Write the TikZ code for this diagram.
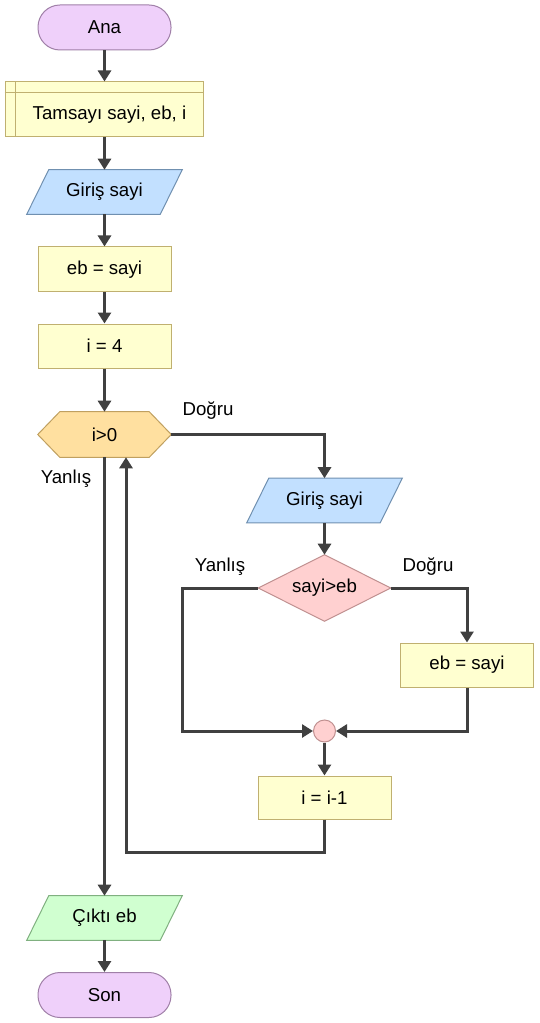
\documentclass[tikz,border=0pt]{standalone}
\usepackage{fontspec}
\setmainfont{Liberation Sans}
\usetikzlibrary{arrows.meta,calc,backgrounds}
\definecolor{linegray}{HTML}{404040}
\definecolor{termfill}{HTML}{EFD0FA}
\definecolor{termborder}{HTML}{A080A8}
\definecolor{procfill}{HTML}{FFFFD0}
\definecolor{procborder}{HTML}{C0B070}
\definecolor{infill}{HTML}{C2E0FF}
\definecolor{inborder}{HTML}{7090B0}
\definecolor{outfill}{HTML}{D0FFD0}
\definecolor{outborder}{HTML}{80B080}
\definecolor{iffill}{HTML}{FFD0D0}
\definecolor{ifborder}{HTML}{C09090}
\definecolor{loopfill}{HTML}{FFE0A0}
\definecolor{loopborder}{HTML}{C0A060}
\begin{document}
\begin{tikzpicture}[x=0.75pt,y=-0.75pt,
  every node/.style={font=\fontsize{14}{16}\selectfont, inner sep=0pt, text=black},
  line/.style={draw=linegray, line width=2.25pt},
  arr/.style={line, -{Triangle[width=9.75pt,length=8.25pt]}},
  term/.style={draw=termborder, fill=termfill, rounded corners=16.5pt, minimum width=99.75pt, minimum height=33.75pt, line width=0.75pt},
  procbox/.style={draw=procborder, fill=procfill, minimum width=99.75pt, minimum height=33pt, line width=0.75pt},
  shapebox/.style={minimum width=116.25pt, minimum height=33pt},
  hexbox/.style={minimum width=99.75pt, minimum height=33.75pt},
  ifbox/.style={minimum width=99pt, minimum height=49.5pt},
  joinc/.style={circle, draw=ifborder, fill=iffill, minimum size=16.5pt, line width=0.75pt},
  outline/.style={line width=0.75pt}
]
\useasboundingbox (0,0) rectangle (539,1023);

% nodes
\node[term] (start) at (104.5,27.5) {Ana};
\node[procbox, minimum width=148.5pt, minimum height=41.25pt] (decl) at (104,109.5) {};
\node (declt) at (109.5,115) {Tamsayı sayi, eb, i};
\node[shapebox] (in1) at (104.5,192) {Giriş sayi};
\node[procbox, minimum height=33.75pt] (eb1) at (104.5,269.5) {eb = sayi};
\node[procbox] (i4) at (104.5,346) {i = 4};
\node[hexbox] (loop) at (104.5,434.5) {i>0};
\node[shapebox] (in2) at (324.5,500.5) {Giriş sayi};
\node[ifbox] (if) at (324.5,588) {sayi>eb};
\node[procbox] (eb2) at (467,665) {eb = sayi};
\node[joinc] (join) at (324.5,731) {};
\node[procbox, minimum height=32.25pt] (dec) at (324.5,797.5) {i = i-1};
\node[shapebox] (out) at (104.5,918) {Çıktı eb};
\node[term] (end) at (104.5,995) {Son};

% labels
\node (l1) at (208,411) {Doğru};
\node (l2) at (66,479) {Yanlış};
\node (l3) at (220,567) {Yanlış};
\node (l4) at (428,567) {Doğru};

% declaration inner lines
\draw[procborder, outline] ($(decl.north west)+(11,0)$) -- ($(decl.south west)+(11,0)$);
\draw[procborder, outline] ($(decl.north west)+(0,11)$) -- ($(decl.north east)+(0,11)$);

% background shapes
\begin{pgfonlayer}{background}
\filldraw[outline, draw=inborder, fill=infill]
  ($(in1.north west)+(22,0)$) -- (in1.north east) -- ($(in1.south east)+(-22,0)$) -- (in1.south west) -- cycle;
\filldraw[outline, draw=inborder, fill=infill]
  ($(in2.north west)+(22,0)$) -- (in2.north east) -- ($(in2.south east)+(-22,0)$) -- (in2.south west) -- cycle;
\filldraw[outline, draw=outborder, fill=outfill]
  ($(out.north west)+(22,0)$) -- (out.north east) -- ($(out.south east)+(-22,0)$) -- (out.south west) -- cycle;
\filldraw[outline, draw=loopborder, fill=loopfill]
  (loop.west) -- ($(loop.north west)+(22,0)$) -- ($(loop.north east)+(-22,0)$) -- (loop.east)
  -- ($(loop.south east)+(-22,0)$) -- ($(loop.south west)+(22,0)$) -- cycle;
\filldraw[outline, draw=ifborder, fill=iffill]
  (if.west) -- (if.north) -- (if.east) -- (if.south) -- cycle;
\end{pgfonlayer}

% connectors
\draw[arr] (start.south) -- (start.south |- decl.north);
\draw[arr] (decl.south -| start.south) -- (in1.north);
\draw[arr] (in1.south) -- (eb1.north);
\draw[arr] (eb1.south) -- (i4.north);
\draw[arr] (i4.south) -- (loop.north);
\draw[arr] (loop.east) -| (in2.north);
\draw[arr] (loop.south) -- (out.north);
\draw[arr] (in2.south) -- (if.north);
\draw[arr] (if.east) -| (eb2.north);
\coordinate (lft) at (182,731);
\draw[arr] (if.west) -| (lft) -- (join.west);
\draw[arr] (eb2.south) |- (join.east);
\draw[arr] (join.south) -- (dec.north);
\coordinate (back) at (126,852);
\draw[arr] (dec.south) |- (back) -- (back |- loop.south);
\draw[arr] (out.south) -- (end.north);
\end{tikzpicture}
\end{document}
